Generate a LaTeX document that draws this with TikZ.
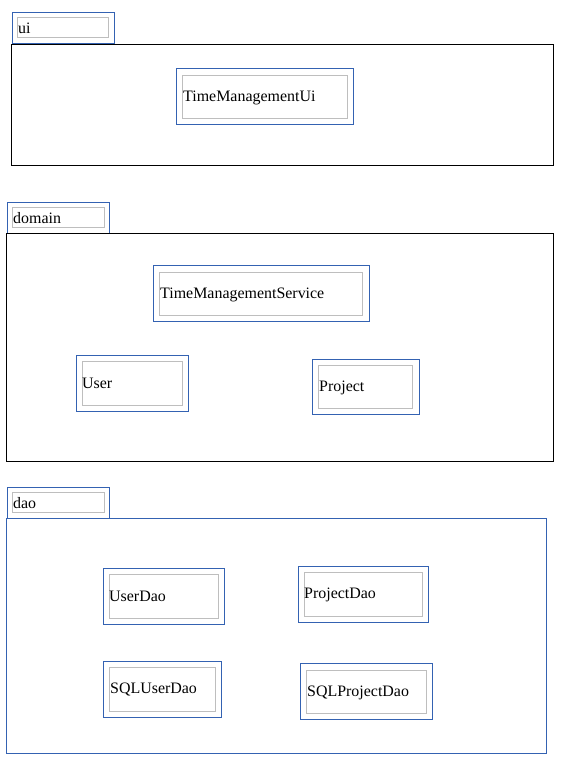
\documentclass[tikz,border=0pt]{standalone}
\usepackage{fontspec}
\setmainfont{Liberation Serif}
\usetikzlibrary{positioning}

\definecolor{pkgblue}{RGB}{52,98,178}
\definecolor{innergray}{RGB}{190,190,190}

\begin{document}
\begin{tikzpicture}[x=1bp,y=-1bp]
\tikzstyle{outerbox}=[draw=pkgblue,line width=1.4bp,anchor=north west,inner sep=0pt]
\tikzstyle{innerbox}=[draw=innergray,line width=1.1bp,anchor=north west,inner sep=0pt]
\tikzstyle{pkgframe}=[draw=black,line width=1.1bp,anchor=north west,inner sep=0pt]
\tikzstyle{lbl}=[anchor=west,inner sep=0pt,font=\fontsize{16}{19}\selectfont]

\useasboundingbox (0,0) rectangle (562,762);

%% ui package
\node [outerbox,minimum width=102bp,minimum height=31bp] (uitab) at (12,12) {};
\node [innerbox,minimum width=91bp,minimum height=20bp] (uitabin) at (17,17) {};
\node [lbl] (uiname) at (18,28) {ui};
\node [pkgframe,minimum width=542bp,minimum height=121bp] (ui) at (11,44) {};

\node [outerbox,minimum width=177bp,minimum height=56bp] (tmui) at (176,68) {};
\node [innerbox,minimum width=165bp,minimum height=43bp] (tmuiin) at (182,75) {};
\node [lbl] (tmuilbl) at (183,97.5) {TimeManagementUi};

%% domain package
\node [outerbox,minimum width=102bp,minimum height=31bp] (domaintab) at (7,202) {};
\node [innerbox,minimum width=92bp,minimum height=20bp] (domaintabin) at (12,207) {};
\node [lbl] (domainname) at (13,218) {domain};
\node [pkgframe,minimum width=547bp,minimum height=228bp] (domain) at (6,233) {};

\node [outerbox,minimum width=216bp,minimum height=56bp] (tms) at (153,265) {};
\node [innerbox,minimum width=203bp,minimum height=43bp] (tmsin) at (159,272) {};
\node [lbl] (tmslbl) at (160,294.5) {TimeManagementService};

\node [outerbox,minimum width=112bp,minimum height=56bp] (user) at (76,355) {};
\node [innerbox,minimum width=100bp,minimum height=44bp] (userin) at (82,361) {};
\node [lbl] (userlbl) at (82,383.5) {User};

\node [outerbox,minimum width=107bp,minimum height=55bp] (project) at (312,359) {};
\node [innerbox,minimum width=94bp,minimum height=43bp] (projectin) at (318,365) {};
\node [lbl] (projectlbl) at (319,387.5) {Project};

%% dao package
\node [outerbox,minimum width=102bp,minimum height=31bp] (daotab) at (7,487) {};
\node [innerbox,minimum width=92bp,minimum height=20bp] (daotabin) at (12,492) {};
\node [lbl] (daoname) at (13,503) {dao};
\node [outerbox,minimum width=540bp,minimum height=235bp] (dao) at (6,518) {};

\node [outerbox,minimum width=121bp,minimum height=56bp] (userdao) at (103,568) {};
\node [innerbox,minimum width=109bp,minimum height=44bp] (userdaoin) at (109,574) {};
\node [lbl] (userdaolbl) at (109,596.5) {UserDao};

\node [outerbox,minimum width=130bp,minimum height=56bp] (projectdao) at (298,566) {};
\node [innerbox,minimum width=118bp,minimum height=44bp] (projectdaoin) at (304,572) {};
\node [lbl] (projectdaolbl) at (304,594.5) {ProjectDao};

\node [outerbox,minimum width=118bp,minimum height=56bp] (sqluserdao) at (103,661) {};
\node [innerbox,minimum width=106bp,minimum height=44bp] (sqluserdaoin) at (109,667) {};
\node [lbl] (sqluserdaolbl) at (110,689.5) {SQLUserDao};

\node [outerbox,minimum width=132bp,minimum height=56bp] (sqlprojectdao) at (300,663) {};
\node [innerbox,minimum width=120bp,minimum height=43bp] (sqlprojectdaoin) at (306,670) {};
\node [lbl] (sqlprojectdaolbl) at (307,692.5) {SQLProjectDao};

\end{tikzpicture}
\end{document}
